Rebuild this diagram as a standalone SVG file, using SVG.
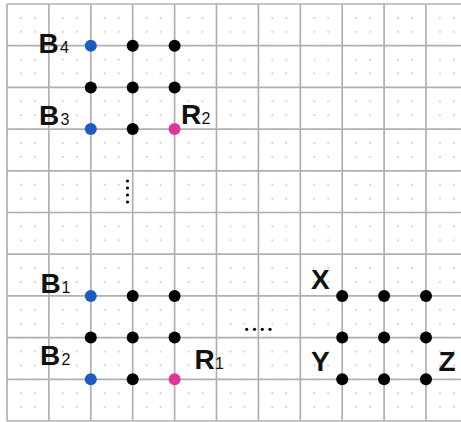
<svg xmlns="http://www.w3.org/2000/svg" width="461" height="422" viewBox="0 0 461 422">
<style>
.grid line{stroke:#b0b0b0;stroke-width:1.7}
.k{fill:#000}
.b{fill:#1a5cc0}
.m{fill:#e0359a}
.lbl{font-family:"Liberation Sans",Arial,sans-serif;font-weight:bold;font-size:28px;fill:#111}
.sub{font-family:"Liberation Sans",Arial,sans-serif;font-size:16px;fill:#111}
.ell{fill:#000}
</style>
<defs>
<pattern id="minor" patternUnits="userSpaceOnUse" x="7" y="4" width="41.9" height="41.7">
<g fill="#c4c4c4">
<circle cx="13.97" cy="0" r="0.9"/><circle cx="27.93" cy="0" r="0.9"/>
<circle cx="0" cy="13.9" r="0.9"/><circle cx="13.97" cy="13.9" r="0.9"/><circle cx="27.93" cy="13.9" r="0.9"/>
<circle cx="0" cy="27.8" r="0.9"/><circle cx="13.97" cy="27.8" r="0.9"/><circle cx="27.93" cy="27.8" r="0.9"/>
</g>
</pattern>
</defs>
<rect width="461" height="422" fill="#fff"/>
<rect x="7" y="4" width="454" height="417" fill="url(#minor)"/>
<g class="grid" id="grid">
<line x1="7" y1="4" x2="7" y2="421"/>
<line x1="48.9" y1="4" x2="48.9" y2="421"/>
<line x1="90.8" y1="4" x2="90.8" y2="421"/>
<line x1="132.7" y1="4" x2="132.7" y2="421"/>
<line x1="174.6" y1="4" x2="174.6" y2="421"/>
<line x1="216.5" y1="4" x2="216.5" y2="421"/>
<line x1="258.4" y1="4" x2="258.4" y2="421"/>
<line x1="300.3" y1="4" x2="300.3" y2="421"/>
<line x1="342.2" y1="4" x2="342.2" y2="421"/>
<line x1="384.1" y1="4" x2="384.1" y2="421"/>
<line x1="426" y1="4" x2="426" y2="421"/>
<line x1="7" y1="4" x2="461" y2="4"/>
<line x1="7" y1="45.7" x2="461" y2="45.7"/>
<line x1="7" y1="87.4" x2="461" y2="87.4"/>
<line x1="7" y1="129.1" x2="461" y2="129.1"/>
<line x1="7" y1="170.8" x2="461" y2="170.8"/>
<line x1="7" y1="212.5" x2="461" y2="212.5"/>
<line x1="7" y1="254.2" x2="461" y2="254.2"/>
<line x1="7" y1="295.9" x2="461" y2="295.9"/>
<line x1="7" y1="337.6" x2="461" y2="337.6"/>
<line x1="7" y1="379.3" x2="461" y2="379.3"/>
<line x1="7" y1="421" x2="461" y2="421"/>
</g>
<g id="connectors"></g>
<g id="B4"><circle class="b" cx="90.8" cy="45.7" r="6"/><text class="lbl" x="38.5" y="53">B</text><text class="sub" x="60" y="53">4</text></g>
<g id="top-a2"><circle class="k" cx="132.7" cy="45.7" r="6"/></g>
<g id="top-a3"><circle class="k" cx="174.6" cy="45.7" r="6"/></g>
<g id="top-b1"><circle class="k" cx="90.8" cy="87.4" r="6"/></g>
<g id="top-b2"><circle class="k" cx="132.7" cy="87.4" r="6"/></g>
<g id="top-b3"><circle class="k" cx="174.6" cy="87.4" r="6"/></g>
<g id="B3"><circle class="b" cx="90.8" cy="129.1" r="6"/><text class="lbl" x="39" y="125">B</text><text class="sub" x="60.5" y="125">3</text></g>
<g id="top-c2"><circle class="k" cx="132.7" cy="129.1" r="6"/></g>
<g id="R2"><circle class="m" cx="174.6" cy="129.1" r="6"/><text class="lbl" x="181" y="124">R</text><text class="sub" x="201.5" y="124">2</text></g>
<g id="vdots"><circle class="ell" cx="127.5" cy="181" r="1.6"/><circle class="ell" cx="127.5" cy="188" r="1.6"/><circle class="ell" cx="127.5" cy="195" r="1.6"/><circle class="ell" cx="127.5" cy="202" r="1.6"/></g>
<g id="B1"><circle class="b" cx="90.8" cy="295.9" r="6"/><text class="lbl" x="40.5" y="293">B</text><text class="sub" x="61.5" y="293">1</text></g>
<g id="bot-a2"><circle class="k" cx="132.7" cy="295.9" r="6"/></g>
<g id="bot-a3"><circle class="k" cx="174.6" cy="295.9" r="6"/></g>
<g id="bot-b1"><circle class="k" cx="90.8" cy="337.6" r="6"/></g>
<g id="bot-b2"><circle class="k" cx="132.7" cy="337.6" r="6"/></g>
<g id="bot-b3"><circle class="k" cx="174.6" cy="337.6" r="6"/></g>
<g id="B2"><circle class="b" cx="90.8" cy="379.3" r="6"/><text class="lbl" x="40" y="365">B</text><text class="sub" x="61.5" y="365">2</text></g>
<g id="bot-c2"><circle class="k" cx="132.7" cy="379.3" r="6"/></g>
<g id="R1"><circle class="m" cx="174.6" cy="379.3" r="6"/><text class="lbl" x="194.5" y="369">R</text><text class="sub" x="215" y="369">1</text></g>
<g id="hdots"><circle class="ell" cx="246.7" cy="329.3" r="1.6"/><circle class="ell" cx="254.5" cy="329.3" r="1.6"/><circle class="ell" cx="262.3" cy="329.3" r="1.6"/><circle class="ell" cx="270" cy="329.3" r="1.6"/></g>
<g id="X"><circle class="k" cx="342.2" cy="295.9" r="6"/><text class="lbl" x="311" y="289">X</text></g>
<g id="r-a2"><circle class="k" cx="384.1" cy="295.9" r="6"/></g>
<g id="r-a3"><circle class="k" cx="426" cy="295.9" r="6"/></g>
<g id="r-b1"><circle class="k" cx="342.2" cy="337.6" r="6"/></g>
<g id="r-b2"><circle class="k" cx="384.1" cy="337.6" r="6"/></g>
<g id="r-b3"><circle class="k" cx="426" cy="337.6" r="6"/></g>
<g id="Y"><circle class="k" cx="342.2" cy="379.3" r="6"/><text class="lbl" x="311" y="371">Y</text></g>
<g id="r-c2"><circle class="k" cx="384.1" cy="379.3" r="6"/></g>
<g id="Z"><circle class="k" cx="426" cy="379.3" r="6"/><text class="lbl" x="438.5" y="371">Z</text></g>
</svg>
